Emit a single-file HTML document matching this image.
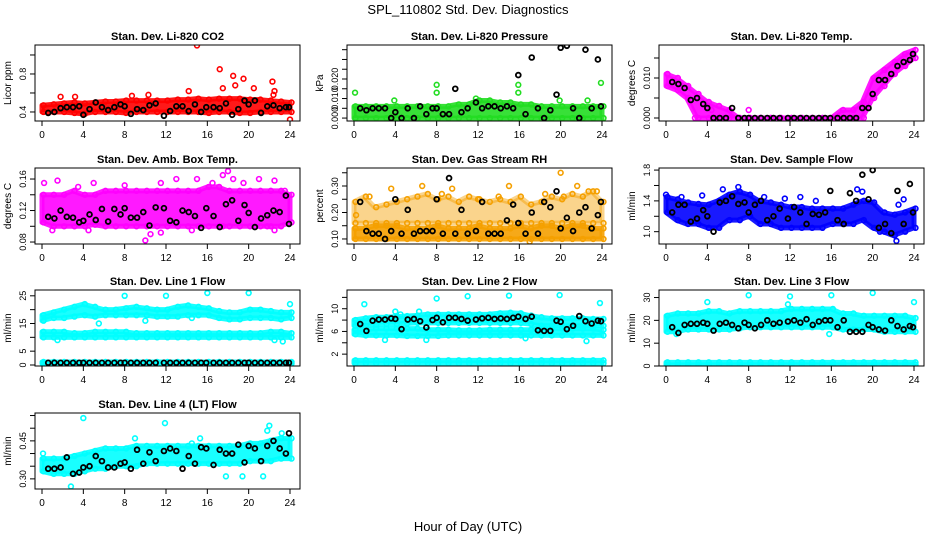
<!DOCTYPE html>
<html><head><meta charset="utf-8"><style>
body{margin:0;background:#fff;}
svg text{font-family:"Liberation Sans",sans-serif;}
</style></head><body>
<svg id="chart" width="936" height="540" xmlns="http://www.w3.org/2000/svg">
<rect width="936" height="540" fill="#fff"/>
<text x="468" y="14" font-size="13" text-anchor="middle">SPL_110802  Std. Dev. Diagnostics</text>
<text x="468" y="531" font-size="13" text-anchor="middle">Hour of Day (UTC)</text>
</svg>
<script>
const hours = [0,1,2,3,4,5,6,7,8,9,10,11,12,13,14,15,16,17,18,19,20,21,22,23,24];
const blackHours = [0.6,1.2,1.8,2.4,3.0,3.6,4.0,4.6,5.2,5.8,6.4,7.0,7.6,8.0,8.6,9.2,9.8,10.4,11.0,11.8,12.4,13.0,13.6,14.2,14.8,15.4,15.9,16.6,17.2,17.8,18.4,19.0,19.6,20.0,20.6,21.2,21.8,22.4,23.0,23.6,23.9];
const xTicks = [0,4,8,12,16,20,24];

const co2Lo = [0.40,0.40,0.40,0.39,0.38,0.40,0.40,0.40,0.39,0.40,0.40,0.40,0.40,0.40,0.40,0.40,0.39,0.40,0.40,0.39,0.39,0.40,0.40,0.40,0.40];
const co2Hi = [0.47,0.48,0.49,0.50,0.49,0.50,0.51,0.51,0.52,0.52,0.52,0.52,0.52,0.53,0.53,0.54,0.53,0.54,0.54,0.54,0.53,0.53,0.52,0.51,0.50];
const co2OutX = [1.8,3.2,8.7,10.3,14.2,15,17.2,17.5,18.5,19.5,20.5,22.3,22.5,24,22.4,18.7];
const co2OutY = [0.56,0.56,0.57,0.58,0.62,1.1,0.85,0.65,0.78,0.75,0.65,0.72,0.62,0.32,0.58,0.68];
const co2Black = [0.39,0.40,0.44,0.45,0.45,0.46,0.37,0.43,0.50,0.45,0.42,0.45,0.48,0.46,0.38,0.43,0.42,0.47,0.49,0.36,0.41,0.46,0.46,0.41,0.48,0.40,0.45,0.45,0.44,0.49,0.37,0.43,0.52,0.48,0.52,0.39,0.46,0.47,0.44,0.45,0.45];

const presLo = [0,0,0,0,0,0,0,0,0,0,0,0,0,0,0,0,0,0,0,0,0,0,0,0,0];
const presHi = [.006,.006,.006,.006,.006,.006,.006,.006,.006,.006,.007,.007,.009,.009,.008,.008,.007,.007,.006,.006,.006,.006,.006,.006,.006];
const presOutX = [0.1,3.9,8,8,15.9,15.9,23.9,11.8,19.9,22.6];
const presOutY = [.013,.009,.017,.013,.017,.013,.018,.010,.009,.009];
const presBlack = [.005,.004,.005,.005,.005,.000,.003,.000,.005,.000,.006,.002,.005,.005,.002,.002,.015,.003,.005,.008,.005,.006,.006,.005,.006,.005,.022,.002,.031,.005,.000,.004,.012,.036,.037,.005,.000,.035,.005,.030,.006];

const tempLo = [.008,.007,.005,.000,.000,.000,.000,.000,.000,.000,.000,.000,.000,.000,.000,.000,.000,.000,.000,.000,.005,.008,.011,.013,.015];
const tempHi = [.011,.010,.008,.006,.004,.003,.002,.000,.000,.000,.000,.000,.000,.000,.000,.000,.000,.002,.002,.004,.010,.012,.014,.016,.017];
const tempOutX = [8,4.4,2.8];
const tempOutY = [.002,.002,.000];
const tempBlack = [.009,.0085,.0075,.0045,.005,.0035,.0025,.000,.000,.000,.0025,.000,.000,.000,.000,.000,.000,.000,.000,.000,.000,.000,.000,.000,.000,.000,.000,.000,.000,.000,.000,.0025,.0025,.006,.0095,.0095,.011,.013,.014,.0145,.016];

const ambLo = [0.105,0.100,0.100,0.100,0.100,0.102,0.100,0.100,0.100,0.100,0.100,0.100,0.100,0.100,0.100,0.100,0.100,0.100,0.100,0.100,0.100,0.100,0.100,0.100,0.105];
const ambHi = [0.14,0.14,0.14,0.145,0.14,0.14,0.145,0.145,0.145,0.145,0.145,0.145,0.145,0.145,0.145,0.145,0.15,0.15,0.145,0.145,0.145,0.145,0.145,0.145,0.14];
const ambOutX = [0.2,1.5,3.5,5,8,10.5,11.5,13,15,16.5,17.5,18,18.5,19.5,21,22.5,22.5,23.5,1,4.5,10,11.5,14.5,17.5,21.8];
const ambOutY = [0.155,0.158,0.15,0.155,0.152,0.09,0.155,0.16,0.16,0.155,0.165,0.17,0.16,0.155,0.16,0.158,0.095,0.145,0.095,0.095,0.082,0.092,0.095,0.1,0.1];
const ambBlack = [0.112,0.110,0.120,0.112,0.111,0.105,0.107,0.115,0.108,0.122,0.106,0.122,0.115,0.123,0.111,0.111,0.118,0.101,0.124,0.123,0.107,0.105,0.120,0.118,0.113,0.098,0.123,0.113,0.099,0.128,0.133,0.107,0.127,0.117,0.099,0.110,0.114,0.120,0.118,0.139,0.103];

const rhLo = [0.10,0.10,0.10,0.10,0.10,0.10,0.10,0.10,0.10,0.10,0.10,0.10,0.10,0.10,0.10,0.10,0.10,0.10,0.10,0.10,0.10,0.10,0.10,0.10,0.10];
const rhHi = [0.14,0.14,0.15,0.15,0.15,0.14,0.14,0.14,0.15,0.14,0.14,0.14,0.15,0.14,0.14,0.14,0.15,0.14,0.15,0.15,0.14,0.15,0.15,0.14,0.14];
const rhUpLo = [0.16,0.16,0.16,0.16,0.16,0.16,0.16,0.16,0.16,0.16,0.16,0.16,0.16,0.16,0.16,0.16,0.16,0.16,0.16,0.16,0.16,0.16,0.16,0.16,0.16];
const rhUpHi = [0.24,0.26,0.22,0.23,0.24,0.25,0.26,0.27,0.25,0.26,0.24,0.26,0.25,0.24,0.25,0.24,0.26,0.23,0.24,0.26,0.25,0.27,0.26,0.28,0.24];
const rhOutX = [0.2,1.5,3.6,6.6,8.5,9.5,12,14,15,18.5,20,20.3,21.6,22.7,23.5,17];
const rhOutY = [0.19,0.26,0.29,0.30,0.27,0.29,0.25,0.26,0.30,0.27,0.35,0.26,0.30,0.28,0.28,0.09];
const rhBlack = [0.24,0.13,0.12,0.12,0.10,0.13,0.25,0.12,0.21,0.12,0.13,0.13,0.13,0.25,0.12,0.33,0.12,0.21,0.12,0.13,0.24,0.12,0.12,0.12,0.17,0.23,0.16,0.12,0.20,0.12,0.24,0.22,0.28,0.14,0.18,0.13,0.20,0.22,0.14,0.19,0.24];

const sfLo = [1.25,1.15,1.1,1.1,1.05,1.05,1.15,1.15,1.2,1.1,1.1,1.05,1.05,1.05,1.05,1.05,1.1,1.1,1.1,1.15,1.05,1.0,0.95,1.0,1.05];
const sfHi = [1.45,1.42,1.38,1.36,1.35,1.4,1.48,1.52,1.48,1.4,1.38,1.35,1.32,1.32,1.3,1.3,1.3,1.3,1.35,1.4,1.38,1.25,1.22,1.25,1.3];
const sfOutX = [0,1.5,3.5,5.5,7,9.5,11.5,13,14.5,18.5,19,22.5,23,22.3,20.7];
const sfOutY = [1.48,1.45,1.47,1.55,1.58,1.45,1.43,1.45,1.4,1.55,1.52,1.35,1.42,0.88,1.0];
const sfBlack = [1.25,1.35,1.35,1.13,1.17,1.28,1.2,1.0,1.38,1.4,1.46,1.36,1.38,1.25,1.35,1.40,1.15,1.2,1.3,1.17,1.32,1.25,1.1,1.23,1.22,1.25,1.53,1.15,1.10,1.5,1.4,1.74,1.42,1.8,1.05,1.1,0.98,1.53,1.1,1.62,1.25];

const l1ALo = [16,17,17,17.5,18,17.5,18,18,18,18,18,17.5,17.5,17.5,18,18,18,17,16.5,16.5,17,17,17,16.5,17];
const l1AHi = [18,19,20,21,22,21,20,20,20.5,21,20.5,20,20,21,21.5,21,20.5,19.5,19,19,20,20,19.5,19,19];
const l1BLo = [10,10,10,10,10,10,10,10,10,10,10,10,10,10,10,10,10,10,10,10,10,10,10,10,10];
const l1BHi = [12,12,12,11.5,11.5,12,12,12,12,11.5,11.5,11.5,11.5,11.5,11.5,11.5,11.5,11.5,11.5,11.5,11.5,11.5,12,12,11.5];
const l1CLo = [0.5,0.5,0.5,0.5,0.5,0.5,0.5,0.5,0.5,0.5,0.5,0.5,0.5,0.5,0.5,0.5,0.5,0.5,0.5,0.5,0.5,0.5,0.5,0.5,0.5];
const l1CHi = [1.1,1.1,1.1,1.1,1.1,1.1,1.1,1.1,1.1,1.1,1.1,1.1,1.1,1.1,1.1,1.1,1.1,1.1,1.1,1.1,1.1,1.1,1.1,1.1,1.1];
const l1OutX = [8,12,16,20,24,5.5,10,14.5,22.5,1.5,23.3];
const l1OutY = [25,25,26,26,22,15,16,17,9,9,8.5];
const l1Black = [0.8,0.8,0.8,0.8,0.8,0.8,0.8,0.8,0.8,0.8,0.8,0.8,0.8,0.8,0.8,0.8,0.8,0.8,0.8,0.8,0.8,0.8,0.8,0.8,0.8,0.8,0.8,0.8,0.8,0.8,0.8,0.8,0.8,0.8,0.8,0.8,0.8,0.8,0.8,0.8,0.8];

const l2ALo = [7,7,7.2,7.3,7.3,7.4,7.5,7.5,7.5,7.5,7.5,7.5,7.5,7.5,7.5,7.5,7.5,7.3,7,7,7,7,7,7,7];
const l2AHi = [8,8.3,8.5,8.5,8.6,8.7,8.8,9,9,9,9,9,9,9,9.2,9.3,9.2,8.8,8.5,8.3,8.3,8.3,8.3,8.2,8.2];
const l2BLo = [5.5,5.3,5.3,5.3,5.3,5.2,5.2,5.2,5.2,5.3,5.3,5.3,5.3,5.3,5.3,5.3,5.3,5.3,5.3,5.3,5.3,5.3,5.3,5.3,5.3];
const l2BHi = [6.3,6.3,6.5,6.5,6.5,6.5,6.5,6.3,6.3,6.3,6.2,6.2,6.2,6.3,6.3,6.3,6.3,6.3,6.5,6.5,6.5,6.5,6.5,6.5,6.3];
const l2CLo = [0.4,0.4,0.4,0.4,0.4,0.4,0.4,0.4,0.4,0.4,0.4,0.4,0.4,0.4,0.4,0.4,0.4,0.4,0.4,0.4,0.4,0.4,0.4,0.4,0.4];
const l2CHi = [0.9,0.9,0.9,0.9,0.9,0.9,0.9,0.9,0.9,0.9,0.9,0.9,0.9,0.9,0.9,0.9,0.9,0.9,0.9,0.9,0.9,0.9,0.9,0.9,0.9];
const l2OutX = [1,4,8,11,15,19.9,23.8,3,7,16.6,22.5,4.5,6.3];
const l2OutY = [10.8,9.5,11.8,12.2,12.3,12.4,11,4.5,4.5,4.8,4.3,9,9.5];
const l2Black = [7.3,6.1,7.9,8.1,8.1,8.3,8.2,6.4,8.1,8.2,7.8,6.7,8.0,8.4,7.6,8.4,8.4,8.2,7.9,8.1,8.3,8.4,8.2,8.3,8.2,8.4,8.6,8.2,8.6,6.2,6.1,6.1,7.9,7.7,6.4,7.0,8.7,7.8,7.4,7.9,7.8];

const l3ALo = [15,15,16,16,16,16,16,16.5,17,17,17,17,17,17,17,17,17,16,16,16,16,15,15,15,15];
const l3AHi = [22,23,23,23,24,24,23,24,24,24,24,24,25,25,25,25,25,23,23,22,22,22,22,22,21];
const l3CLo = [0.6,0.6,0.6,0.6,0.6,0.6,0.6,0.6,0.6,0.6,0.6,0.6,0.6,0.6,0.6,0.6,0.6,0.6,0.6,0.6,0.6,0.6,0.6,0.6,0.6];
const l3CHi = [1.6,1.6,1.6,1.6,1.6,1.6,1.6,1.6,1.6,1.6,1.6,1.6,1.6,1.6,1.6,1.6,1.6,1.6,1.6,1.6,1.6,1.6,1.6,1.6,1.6];
const l3OutX = [4,8,12,16,20,24,15.8,1,11.8];
const l3OutY = [28,31,30.5,31,32,28,14,14,27];
const l3Black = [17,14.5,18,18.5,18.5,19,18.5,15.5,18.5,19,18,16.5,19,18,16.5,18,20,18.5,19,19.5,20,19,20.5,18,19.5,20,20,17,20,15,15,15,18,17,16,15.5,20,17.5,16,17.5,17];

const l4Lo = [0.33,0.32,0.32,0.32,0.33,0.34,0.34,0.35,0.35,0.35,0.36,0.36,0.36,0.36,0.36,0.36,0.36,0.36,0.36,0.36,0.37,0.37,0.37,0.38,0.38];
const l4Hi = [0.38,0.38,0.38,0.39,0.40,0.41,0.42,0.42,0.42,0.43,0.43,0.43,0.43,0.43,0.43,0.43,0.43,0.43,0.43,0.43,0.44,0.44,0.45,0.46,0.46];
const l4OutX = [4,11.9,22,21.8,23.2,0.1,2.8,15.3,17.8,19.4,14.5,9,21.4];
const l4OutY = [0.54,0.52,0.51,0.49,0.48,0.40,0.27,0.46,0.31,0.31,0.44,0.46,0.31];
const l4Black = [0.34,0.34,0.345,0.385,0.32,0.325,0.345,0.35,0.39,0.37,0.345,0.345,0.36,0.365,0.34,0.415,0.36,0.405,0.37,0.41,0.42,0.41,0.34,0.39,0.36,0.425,0.42,0.355,0.415,0.40,0.40,0.435,0.365,0.43,0.42,0.37,0.43,0.45,0.42,0.40,0.48];

const panels = [
 {name:'li820-co2',title:'Stan. Dev. Li-820 CO2',ylab:'Licor ppm',col:0,row:0,ymin:0.305,ymax:1.105,ticks:[0.4,0.6,0.8,1.0],labels:['0.4','','0.8',''],color:'#ff0000',bands:[[co2Lo,co2Hi]],ox:co2OutX,oy:co2OutY,black:co2Black},
 {name:'li820-pressure',title:'Stan. Dev. Li-820 Pressure',ylab:'kPa',col:1,row:0,ymin:-0.0015,ymax:0.0374,ticks:[0,0.005,0.01,0.015,0.02,0.025,0.03,0.035],labels:['0.000','','0.010','','0.020','','',''],color:'#22dd22',bands:[[presLo,presHi]],ox:presOutX,oy:presOutY,black:presBlack},
 {name:'li820-temp',title:'Stan. Dev. Li-820 Temp.',ylab:'degrees C',col:2,row:0,ymin:-0.00075,ymax:0.01825,ticks:[0,0.005,0.01,0.015],labels:['0.000','','0.010',''],color:'#ff00ff',bands:[[tempLo,tempHi]],ox:tempOutX,oy:tempOutY,black:tempBlack},
 {name:'amb-box-temp',title:'Stan. Dev. Amb. Box Temp.',ylab:'degrees C',col:0,row:1,ymin:0.0775,ymax:0.174,ticks:[0.08,0.10,0.12,0.14,0.16],labels:['0.08','','0.12','','0.16'],color:'#ff00ff',bands:[[ambLo,ambHi]],ox:ambOutX,oy:ambOutY,black:ambBlack},
 {name:'gas-stream-rh',title:'Stan. Dev. Gas Stream RH',ylab:'percent',col:1,row:1,ymin:0.081,ymax:0.368,ticks:[0.10,0.15,0.20,0.25,0.30,0.35],labels:['0.10','','0.20','','0.30',''],color:'#f5a000',bands:[[rhLo,rhHi],[rhUpLo,rhUpHi,0.45]],ox:rhOutX,oy:rhOutY,black:rhBlack},
 {name:'sample-flow',title:'Stan. Dev. Sample Flow',ylab:'ml/min',col:2,row:1,ymin:0.84,ymax:1.827,ticks:[1.0,1.2,1.4,1.6,1.8],labels:['1.0','','1.4','','1.8'],color:'#0000ff',bands:[[sfLo,sfHi]],ox:sfOutX,oy:sfOutY,black:sfBlack},
 {name:'line1-flow',title:'Stan. Dev. Line 1 Flow',ylab:'ml/min',col:0,row:2,ymin:-0.36,ymax:27.1,ticks:[0,5,10,15,20,25],labels:['0','5','','15','','25'],color:'#00ffff',bands:[[l1ALo,l1AHi],[l1BLo,l1BHi],[l1CLo,l1CHi]],ox:l1OutX,oy:l1OutY,black:l1Black},
 {name:'line2-flow',title:'Stan. Dev. Line 2 Flow',ylab:'ml/min',col:1,row:2,ymin:-0.09,ymax:13.3,ticks:[2,4,6,8,10,12],labels:['2','','6','','10',''],color:'#00ffff',bands:[[l2ALo,l2AHi],[l2BLo,l2BHi],[l2CLo,l2CHi]],ox:l2OutX,oy:l2OutY,black:l2Black},
 {name:'line3-flow',title:'Stan. Dev. Line 3 Flow',ylab:'ml/min',col:2,row:2,ymin:0,ymax:33.3,ticks:[0,10,20,30],labels:['0','10','20','30'],color:'#00ffff',bands:[[l3ALo,l3AHi],[l3CLo,l3CHi]],ox:l3OutX,oy:l3OutY,black:l3Black},
 {name:'line4-flow',title:'Stan. Dev. Line 4 (LT) Flow',ylab:'ml/min',col:0,row:3,ymin:0.26,ymax:0.56,ticks:[0.30,0.35,0.40,0.45,0.50,0.55],labels:['0.30','','','0.45','',''],color:'#00ffff',bands:[[l4Lo,l4Hi]],ox:l4OutX,oy:l4OutY,black:l4Black}
];

const NS='http://www.w3.org/2000/svg';
const svg=document.getElementById('chart');
function mk(tag,attrs,parent){const e=document.createElementNS(NS,tag);for(const k in attrs)e.setAttribute(k,attrs[k]);parent.appendChild(e);return e;}
const rowTops=[45,168,290,413];

panels.forEach(p=>{
  const L=35+p.col*312, W=265, T=rowTops[p.row], H=76, B=T+H;
  const xs=h=>L+7+h*(248/24);
  const ys=v=>B-(v-p.ymin)/(p.ymax-p.ymin)*H;
  const g=mk('g',{},svg);
  
  
  const t=mk('text',{x:L+W/2,y:T-5,'font-size':11,'font-weight':'bold','text-anchor':'middle'},g);
  t.textContent=p.title;
  
  
  const clip=mk('clipPath',{id:'c'+p.name},g);
  mk('rect',{x:L,y:T,width:W,height:H},clip);
  const pg=mk('g',{'clip-path':'url(#c'+p.name+')'},g);
  p.bands.forEach(b=>{
    const lo=b[0],hi=b[1],op=b[2]||0.9;
    let pts=hours.map((h,i)=>xs(h)+','+ys(hi[i]));
    pts=pts.concat(hours.slice().reverse().map((h,j)=>{const i=hours.length-1-j;return xs(h)+','+ys(lo[i]);}));
    const poly=mk('polygon',{points:pts.join(' '),fill:p.color,'fill-opacity':op,stroke:p.color,'stroke-width':5,'stroke-linejoin':'round','stroke-opacity':op},pg);
    
    
    hours.forEach((h,i)=>{
      [lo[i],hi[i]].forEach(v=>{
        const c=mk('circle',{cx:xs(h)+1.5,cy:ys(v),r:2.4,fill:'none',stroke:p.color,'stroke-width':1.6},pg);
        
        
      });
    });
  });
  p.ox.forEach((x,i)=>{
    const c=mk('circle',{cx:xs(x),cy:ys(p.oy[i]),r:2.4,fill:'none',stroke:p.color,'stroke-width':1.6},pg);
    
    
  });
  blackHours.forEach((h,i)=>{
    const c=mk('circle',{cx:xs(h),cy:ys(p.black[i]),r:2.4,fill:'none',stroke:'#000','stroke-width':1.8},pg);
    
    
  });
  const box=mk('rect',{x:L,y:T,width:W,height:H,fill:'none',stroke:'#000','stroke-width':1},g);
  
  
  mk('line',{x1:xs(0),x2:xs(24),y1:B,y2:B,stroke:'#000'},g);
  xTicks.forEach(h=>{
    mk('line',{x1:xs(h),x2:xs(h),y1:B,y2:B+5,stroke:'#000'},g);
    const tx=mk('text',{x:xs(h),y:B+17,'font-size':10,'text-anchor':'middle'},g);
    tx.textContent=h;
    
    
  });
  mk('line',{x1:L,x2:L,y1:ys(p.ticks[0]),y2:ys(p.ticks[p.ticks.length-1]),stroke:'#000'},g);
  p.ticks.forEach((v,i)=>{
    mk('line',{x1:L-5,x2:L,y1:ys(v),y2:ys(v),stroke:'#000'},g);
    if(p.labels[i]){
      const tx=mk('text',{x:0,y:0,'font-size':9,'text-anchor':'middle',transform:'translate('+(L-9)+','+ys(v)+') rotate(-90)'},g);
      tx.textContent=p.labels[i];
      
      
    }
  });
  const yl=mk('text',{x:0,y:0,'font-size':10,'text-anchor':'middle',transform:'translate('+(L-24)+','+(T+H/2)+') rotate(-90)'},g);
  yl.textContent=p.ylab;
  
  
});
</script>
</body></html>
